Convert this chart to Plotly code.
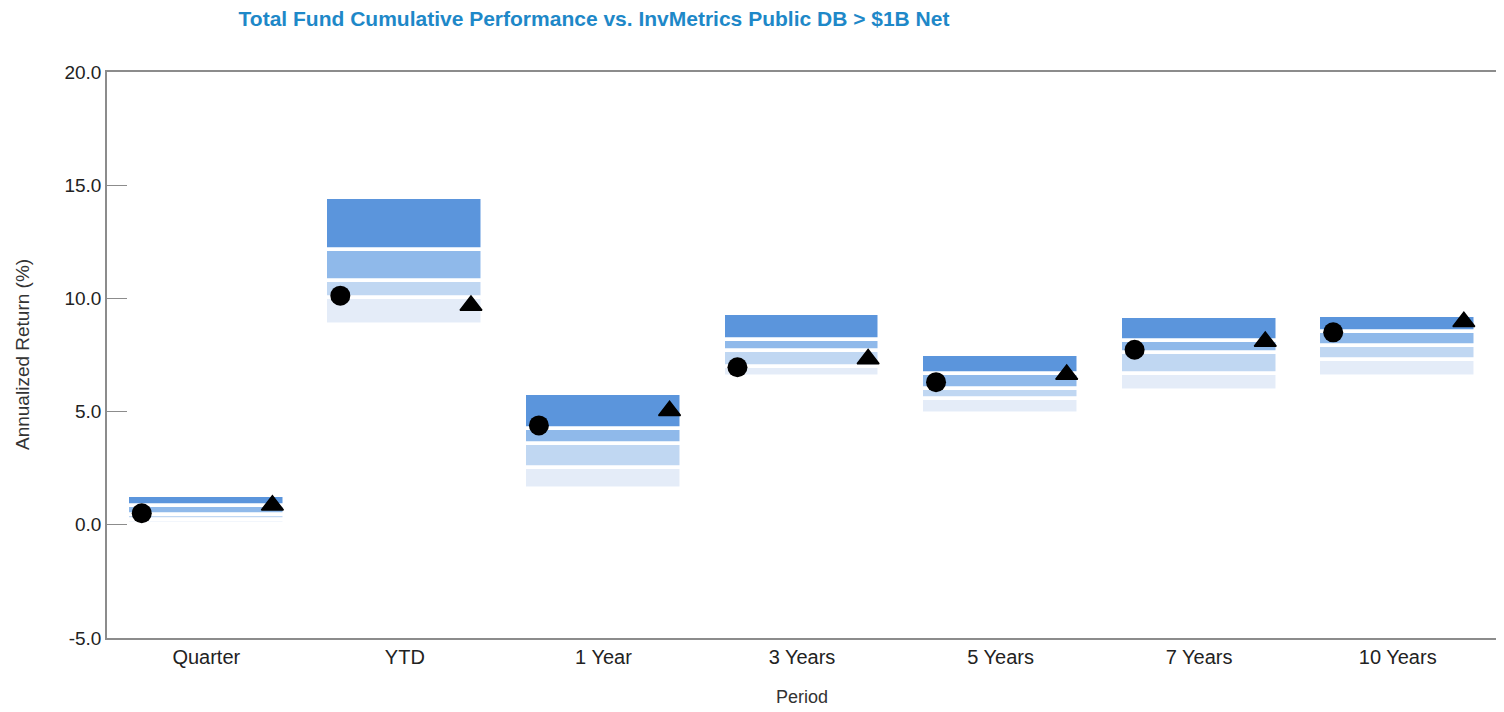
import plotly.graph_objects as go

# ---- data ----
periods = ["Quarter", "YTD", "1 Year", "3 Years", "5 Years", "7 Years", "10 Years"]
p05 = [1.27, 14.42, 5.78, 9.31, 7.52, 9.17, 9.24]   # 5th percentile (top of band)
p25 = [0.83, 12.15, 4.23, 8.15, 6.67, 8.12, 8.52]
p50 = [0.45, 10.76, 3.56, 7.66, 6.02, 7.60, 7.88]
p75 = [0.22, 10.01, 2.53, 6.95, 5.55, 6.67, 7.30]
p95 = [0.02, 8.81, 1.60, 6.53, 4.91, 5.90, 6.53]    # 95th percentile (bottom of band)
total_fund = [0.51, 10.12, 4.39, 6.96, 6.30, 7.73, 8.50]
policy_index = [0.86, 9.69, 5.04, 7.32, 6.64, 8.10, 8.97]
y_ticks = [-5, 0, 5, 10, 15, 20]
y_tick_text = ["-5.0", "0.0", "5.0", "10.0", "15.0", "20.0"]

band_colors = ["#5b95dc", "#8fb9ea", "#c0d7f2", "#e4ecf8"]
xs = list(range(len(periods)))

fig = go.Figure()
bands = [(p25, p05), (p50, p25), (p75, p50), (p95, p75)]
for (lo, hi), col in zip(bands, band_colors):
    fig.add_trace(go.Bar(
        x=xs, base=lo, y=[h - l for h, l in zip(hi, lo)],
        width=0.79, marker=dict(color=col, line=dict(color="white", width=3.5)),
        hoverinfo="skip", showlegend=False))

fig.add_trace(go.Scatter(
    x=[x - 0.325 for x in xs], y=total_fund, mode="markers",
    marker=dict(symbol="circle", size=20, color="black"),
    name="Total Fund", showlegend=False))
fig.add_trace(go.Scatter(
    x=[x + 0.333 for x in xs], y=policy_index, mode="markers",
    marker=dict(symbol="triangle-up", size=19, color="black",
                line=dict(color="black", width=1.5)),
    name="Policy Index", showlegend=False))

font_family = "Liberation Sans, Arial, sans-serif"
fig.update_layout(
    width=1504, height=712,
    margin=dict(l=99, r=15, t=64, b=82),
    paper_bgcolor="white", plot_bgcolor="white",
    barmode="overlay", bargap=0,
    font=dict(family=font_family, size=19, color="#222"),
    title=dict(
        text="<b>Total Fund Cumulative Performance vs. InvMetrics Public DB > $1B Net</b>",
        x=586 / 1504, xanchor="center", xref="container",
        y=1 - 11 / 712, yanchor="middle", yref="container",
        font=dict(family=font_family, size=21, color="#1e88c8")),
    xaxis=dict(
        range=[-0.5, 6.5], tickmode="array", tickvals=xs, ticktext=periods,
        showgrid=False, zeroline=False, ticks="",
        showline=True, linecolor="#8c8c8c", linewidth=1.5, mirror=True,
        tickfont=dict(size=20, color="#222")),
    yaxis=dict(
        range=[-5, 20], tickmode="array", tickvals=y_ticks, ticktext=y_tick_text,
        showgrid=False, zeroline=False,
        ticks="inside", ticklen=20, tickcolor="#8c8c8c", tickwidth=1.2,
        showline=True, linecolor="#8c8c8c", linewidth=1.5, mirror=True,
        tickfont=dict(size=19, color="#222")),
    annotations=[
        dict(text="Annualized Return (%)", textangle=-90, xref="paper", yref="paper",
             x=0, y=0.5, xanchor="center", yanchor="middle", xshift=-85,
             showarrow=False, font=dict(size=19, color="#333")),
        dict(text="Period", xref="paper", yref="paper", x=0.5, y=0,
             xanchor="center", yanchor="middle", yshift=-59,
             showarrow=False, font=dict(size=18, color="#333")),
    ],
)

fig.write_html("out.html")
